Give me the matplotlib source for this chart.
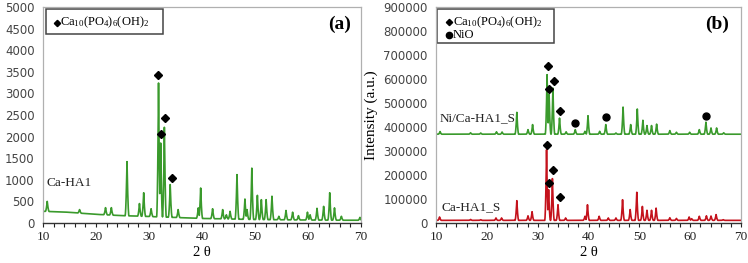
import numpy as np
import matplotlib
matplotlib.use("Agg")
import matplotlib.pyplot as plt
from matplotlib.patches import Rectangle
from matplotlib.ticker import MultipleLocator

plt.rcParams['mathtext.fontset'] = 'custom'
plt.rcParams['mathtext.rm'] = 'Liberation Serif'
plt.rcParams['mathtext.it'] = 'Liberation Serif:italic'

# ---------------- data ----------------
# Panel (a): Ca-HA1
a_base_x = [10, 14, 20, 25, 30, 40, 50, 60, 70]
a_base_y = [270, 255, 200, 170, 150, 105, 80, 68, 62]
a_peak_pos = [10.8, 16.9, 21.8, 22.9, 25.85, 28.2, 29.0, 30.4, 31.8, 32.2, 32.9, 34.0,
              35.5, 39.3, 39.75, 42.0, 43.9, 44.6, 45.3, 46.6, 48.1, 48.5, 49.4, 50.45,
              51.2, 52.1, 53.2, 54.5, 55.85, 57.1, 58.2, 59.9, 60.4, 61.7, 62.95, 64.1,
              65.0, 66.3, 69.8]
a_peak_h = [500, 310, 355, 355, 1420, 450, 700, 330, 3240, 1850, 2215, 890,
            310, 350, 810, 330, 310, 190, 270, 1120, 555, 310, 1270, 640,
            540, 540, 620, 155, 290, 250, 170, 250, 190, 340, 385, 700,
            350, 155, 130]
a_hap_x = [31.75, 32.2, 32.95, 34.3]
a_hap_y = [3430, 2070, 2420, 1050]

# Panel (b): Ca-HA1_S (red)
r_base = 11000
r_peak_pos = [10.7, 16.8, 18.8, 21.8, 22.9, 25.9, 28.1, 28.9, 31.75, 32.15, 32.9, 34.0,
              35.5, 39.3, 39.8, 42.1, 43.9, 45.4, 46.7, 48.2, 49.5, 50.6, 51.5, 52.4,
              53.3, 56.0, 57.3, 59.8, 60.3, 61.8, 63.2, 64.1, 65.1, 66.5]
r_peak_h = [25000, 15000, 14000, 21000, 21000, 93000, 30000, 47000, 305000, 139000, 185000, 76000,
            21000, 28000, 76000, 28000, 21000, 21000, 97000, 56000, 128000, 69000, 53000, 53000,
            62000, 22000, 19000, 25000, 18000, 28000, 30000, 29000, 35000, 14000]
r_hap_x = [31.9, 32.3, 33.0, 34.4]
r_hap_y = [324000, 165000, 220000, 109000]

# Panel (b): Ni/Ca-HA1_S (green)
g_base = 370000
g_peak_pos = [10.8, 16.8, 18.8, 21.9, 23.0, 25.9, 28.1, 29.0, 31.85, 32.25, 33.0, 34.3,
              35.6, 37.4, 39.3, 39.9, 42.2, 43.4, 45.4, 46.8, 48.3, 49.6, 50.7, 51.5,
              52.4, 53.4, 56.0, 57.3, 59.9, 61.8, 63.1, 64.1, 65.2, 66.6]
g_peak_h = [381000, 376000, 375000, 380000, 379000, 461000, 389000, 410000, 618000, 535000, 562000, 437000,
            380000, 389000, 382000, 447000, 382000, 410000, 375000, 483000, 410000, 475000, 428000, 406000,
            406000, 412000, 385000, 378000, 378000, 389000, 420000, 396000, 396000, 376000]
g_hap_x = [32.05, 32.3, 33.3, 34.45]
g_hap_y = [655000, 558000, 590000, 467000]
g_nio_x = [37.3, 43.5, 63.05]
g_nio_y = [418000, 442000, 446000]

xticks = [10, 20, 30, 40, 50, 60, 70]
a_yticks = list(range(0, 5001, 500))
b_yticks = list(range(0, 900001, 100000))


def pattern(base_x, base_y, pos, h, hw=0.36):
    x = np.linspace(10, 70, 6001)
    b = np.interp(x, base_x, base_y)
    y = b.copy()
    for p, hh in zip(pos, h):
        bp = np.interp(p, base_x, base_y)
        shape = np.clip(1 - np.abs(x - p) / hw, 0, None) ** 1.8
        y = np.maximum(y, b + (hh - bp) * shape)
    return x, y


GREEN = '#3a9a2c'
RED = '#c4121c'
SERIF = 'Liberation Serif'
TICKC = '#444444'

fig = plt.figure(figsize=(7.48, 2.63), dpi=100)
axa = fig.add_axes([43 / 748, 40 / 263, 318 / 748, 216 / 263])
axb = fig.add_axes([436 / 748, 40 / 263, 305 / 748, 216 / 263])


def style(ax, yticks, ymax):
    ax.set_xlim(10, 70)
    ax.set_ylim(0, ymax)
    ax.set_xticks(xticks)
    ax.xaxis.set_minor_locator(MultipleLocator(2))
    ax.set_yticks(yticks)
    ax.tick_params(axis='x', which='both', direction='out', length=3, width=0.8,
                   pad=3, labelsize=9.5, colors='#222222')
    ax.tick_params(axis='y', length=0, pad=6, labelsize=8.5, labelcolor=TICKC)
    for lab in ax.get_xticklabels():
        lab.set_fontfamily(SERIF)
    for lab in ax.get_yticklabels():
        lab.set_fontfamily('DejaVu Sans')
    for s in ['left', 'right', 'top']:
        ax.spines[s].set_color('#b0b0b0')
        ax.spines[s].set_linewidth(0.9)
    ax.spines['bottom'].set_color('#333333')
    ax.spines['bottom'].set_linewidth(1.0)
    ax.set_xlabel('2 θ', fontfamily=SERIF, fontsize=10.5, labelpad=2)


# ---- panel (a)
x, y = pattern(a_base_x, a_base_y, a_peak_pos, a_peak_h)
axa.plot(x, y, color=GREEN, lw=1.2)
axa.plot(a_hap_x, a_hap_y, 'D', color='black', ms=3.6, ls='none')
style(axa, a_yticks, 5000)
axa.set_ylabel('Intensity (a.u.)', fontfamily=SERIF, fontsize=11)
axa.yaxis.set_label_coords(-0.138, 0.5)
axa.text(10.6, 930, 'Ca-HA1', fontfamily=SERIF, fontsize=9.5, va='center', color='#222222')
axa.text(0.934, 0.921, '(a)', transform=axa.transAxes, fontfamily=SERIF,
         fontweight='bold', fontsize=14, ha='center', va='center')
axa.add_patch(Rectangle((0.009, 0.875), 0.368, 0.116, transform=axa.transAxes,
                        fill=False, ec='#444444', lw=1.1, clip_on=False))
axa.plot([0.044], [0.927], 'D', color='black', ms=3.2, transform=axa.transAxes, clip_on=False)
axa.text(0.055, 0.927, r'Ca$_{10}$(PO$_4$)$_6$(OH)$_2$', transform=axa.transAxes,
         fontfamily=SERIF, fontsize=9, va='center')

# ---- panel (b)
x, y = pattern([10, 70], [g_base, g_base], g_peak_pos, g_peak_h)
axb.plot(x, y, color=GREEN, lw=1.2)
x, y = pattern([10, 70], [r_base, r_base], r_peak_pos, r_peak_h)
axb.plot(x, y, color=RED, lw=1.2)
axb.plot(g_hap_x, g_hap_y, 'D', color='black', ms=3.6, ls='none')
axb.plot(r_hap_x, r_hap_y, 'D', color='black', ms=3.6, ls='none')
axb.plot(g_nio_x, g_nio_y, 'o', color='black', ms=5, ls='none')
style(axb, b_yticks, 900000)
axb.set_ylabel('Intensity (a.u.)', fontfamily=SERIF, fontsize=11)
axb.yaxis.set_label_coords(-0.19, 0.5)
axb.text(10.8, 437500, 'Ni/Ca-HA1_S', fontfamily=SERIF, fontsize=9.5, va='center', color='#222222')
axb.text(11.0, 66700, 'Ca-HA1_S', fontfamily=SERIF, fontsize=9.5, va='center', color='#222222')
axb.text(0.921, 0.921, '(b)', transform=axb.transAxes, fontfamily=SERIF,
         fontweight='bold', fontsize=14, ha='center', va='center')
axb.add_patch(Rectangle((0.003, 0.833), 0.384, 0.158, transform=axb.transAxes,
                        fill=False, ec='#444444', lw=1.1, clip_on=False))
axb.plot([0.042], [0.93], 'D', color='black', ms=3.2, transform=axb.transAxes, clip_on=False)
axb.text(0.055, 0.93, r'Ca$_{10}$(PO$_4$)$_6$(OH)$_2$', transform=axb.transAxes,
         fontfamily=SERIF, fontsize=9, va='center')
axb.plot([0.042], [0.87], 'o', color='black', ms=4.5, transform=axb.transAxes, clip_on=False)
axb.text(0.055, 0.87, 'NiO', transform=axb.transAxes, fontfamily=SERIF, fontsize=9, va='center')

fig.savefig('out.png', dpi=100)
